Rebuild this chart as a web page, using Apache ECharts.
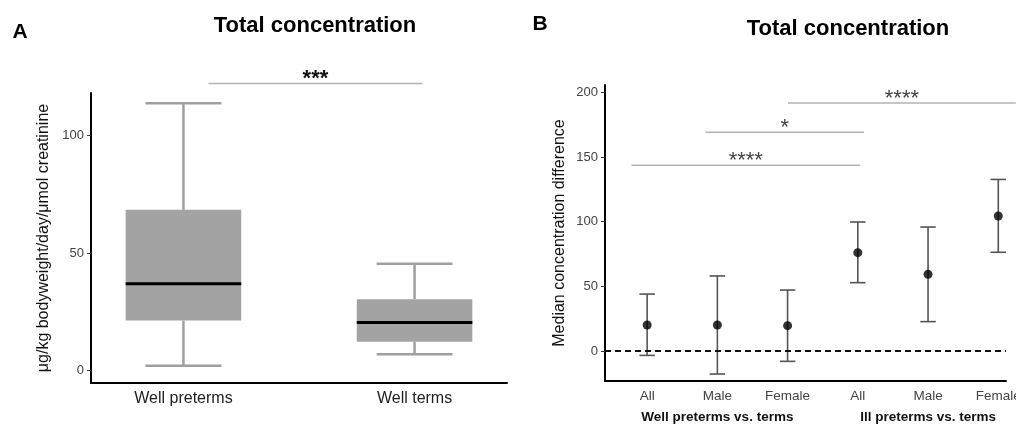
<!DOCTYPE html>
<html><head><meta charset="utf-8">
<script src="https://cdn.jsdelivr.net/npm/echarts@6/dist/echarts.min.js"></script>
<style>html,body{margin:0;padding:0;background:#fff}#c{width:1016px;height:425px}</style>
</head><body><div id="c"></div>
<script>
// ---- Panel A data ----
const groupsA = ['Well preterms', 'Well terms'];
const boxLow = [2.0, 6.9];
const boxQ1 = [21.2, 12.2];
const boxMedian = [36.9, 20.4];
const boxQ3 = [68.4, 30.3];
const boxHigh = [113.8, 45.4];
const ticksA = [0, 50, 100];
const bracketAStart = [1.108];
const bracketAEnd = [2.034];
const bracketAHeight = [122.3];
const bracketALabel = ['***'];

// ---- Panel B data ----
const subgroupsB = ['All', 'Male', 'Female', 'All', 'Male', 'Female'];
const groupLabelsB = ['Well preterms vs. terms', 'Ill preterms vs. terms'];
const medianDiff = [20.1, 20.1, 19.6, 76.0, 59.3, 104.3];
const ciLower = [-3.4, -17.8, -8.0, 52.8, 22.7, 76.3];
const ciUpper = [44.0, 58.0, 47.1, 99.7, 95.8, 132.6];
const ticksB = [0, 50, 100, 150, 200];
const bracketBStart = [0.777, 1.83, 3.006];
const bracketBEnd = [4.033, 4.09, 6.25];
const bracketBHeight = [143.5, 169, 191.7];
const bracketBLabel = ['****', '*', '****'];

const FONT = '"Liberation Sans", Arial, sans-serif';
const chart = echarts.init(document.getElementById('c'), null, {renderer: 'canvas'});

function bracketRender(starts, ends, labels, color, weight) {
  return function (params, api) {
    const i = params.dataIndex;
    const p1 = api.coord([starts[i], api.value(2)]);
    const p2 = api.coord([ends[i], api.value(2)]);
    return {
      type: 'group',
      children: [
        {type: 'line', shape: {x1: p1[0], y1: p1[1], x2: p2[0], y2: p2[1]},
         style: {stroke: '#b3b3b3', lineWidth: 1.5}},
        {type: 'text', x: (p1[0] + p2[0]) / 2, y: p1[1] - 4,
         style: {text: labels[i], font: weight + ' 22px ' + FONT, fill: color,
                 align: 'center', verticalAlign: 'middle'}}
      ]
    };
  };
}

const option = {
  animation: false,
  backgroundColor: '#fff',
  textStyle: {fontFamily: FONT},
  graphic: [
    {type: 'text', x: 20, y: 32, style: {text: 'A', font: 'bold 21px ' + FONT, fill: '#000', align: 'center', verticalAlign: 'middle'}},
    {type: 'text', x: 540, y: 24, style: {text: 'B', font: 'bold 21px ' + FONT, fill: '#000', align: 'center', verticalAlign: 'middle'}},
    {type: 'text', x: 315, y: 26, style: {text: 'Total concentration', font: 'bold 22px ' + FONT, fill: '#000', align: 'center', verticalAlign: 'middle'}},
    {type: 'text', x: 848, y: 29, style: {text: 'Total concentration', font: 'bold 22px ' + FONT, fill: '#000', align: 'center', verticalAlign: 'middle'}}
  ],
  grid: [
    {left: 91, top: 93, width: 416, height: 290, outerBoundsMode: 'none', containLabel: false},
    {left: 605, top: 85, width: 401, height: 296, outerBoundsMode: 'none', containLabel: false}
  ],
  xAxis: [
    {gridIndex: 0, type: 'value', min: 0.6, max: 2.4, position: 'bottom',
     axisLine: {onZero: false, lineStyle: {color: '#000', width: 2}},
     axisTick: {show: false}, splitLine: {show: false},
     axisLabel: {customValues: [1, 2], formatter: v => groupsA[Math.round(v) - 1] || '',
                 color: '#222', fontSize: 16, margin: 8}},
    {gridIndex: 1, type: 'value', min: 0.4, max: 6.11, position: 'bottom',
     axisLine: {onZero: false, lineStyle: {color: '#000', width: 2}},
     axisTick: {show: false}, splitLine: {show: false},
     axisLabel: {customValues: [1, 2, 3, 4, 5, 6], formatter: v => subgroupsB[Math.round(v) - 1] || '',
                 color: '#444', fontSize: 13.5, margin: 8}},
    {gridIndex: 1, type: 'value', min: 0.4, max: 6.11, position: 'bottom', offset: 0,
     axisLine: {show: false, onZero: false}, axisTick: {show: false}, splitLine: {show: false},
     axisLabel: {customValues: [2, 5], formatter: v => groupLabelsB[v === 2 ? 0 : 1],
                 color: '#111', fontSize: 13.5, fontWeight: 'bold', margin: 29}}
  ],
  yAxis: [
    {gridIndex: 0, type: 'value', min: -5.4, max: 118.2,
     name: 'μg/kg bodyweight/day/μmol creatinine', nameLocation: 'middle', nameGap: 39,
     nameTextStyle: {fontSize: 16, color: '#111'},
     axisLine: {onZero: false, lineStyle: {color: '#000', width: 2}},
     axisTick: {customValues: ticksA, length: 4, lineStyle: {color: '#333'}},
     splitLine: {show: false},
     axisLabel: {customValues: ticksA, color: '#444', fontSize: 13, margin: 7}},
    {gridIndex: 1, type: 'value', min: -23.2, max: 205.6,
     name: 'Median concentration difference', nameLocation: 'middle', nameGap: 37,
     nameTextStyle: {fontSize: 16, color: '#111'},
     axisLine: {onZero: false, lineStyle: {color: '#000', width: 2}},
     axisTick: {customValues: ticksB, length: 4, lineStyle: {color: '#333'}},
     splitLine: {show: false},
     axisLabel: {customValues: ticksB, color: '#444', fontSize: 13, margin: 7}}
  ],
  series: [
    {
      type: 'custom', xAxisIndex: 0, yAxisIndex: 0,
      data: groupsA.map((g, i) => [i + 1, boxLow[i], boxQ1[i], boxMedian[i], boxQ3[i], boxHigh[i]]),
      encode: {x: 0, y: [1, 2, 3, 4, 5]},
      renderItem: function (params, api) {
        const x = api.value(0);
        const halfBox = 0.25, halfCap = 0.164;
        const pLow = api.coord([x, api.value(1)]);
        const pQ1 = api.coord([x, api.value(2)]);
        const pMed = api.coord([x, api.value(3)]);
        const pQ3 = api.coord([x, api.value(4)]);
        const pHigh = api.coord([x, api.value(5)]);
        const bl = api.coord([x - halfBox, 0])[0], br = api.coord([x + halfBox, 0])[0];
        const cl = api.coord([x - halfCap, 0])[0], cr = api.coord([x + halfCap, 0])[0];
        const wStyle = {stroke: '#9f9f9f', lineWidth: 2.5};
        return {type: 'group', children: [
          {type: 'line', shape: {x1: pLow[0], y1: pLow[1], x2: pQ1[0], y2: pQ1[1]}, style: wStyle},
          {type: 'line', shape: {x1: pQ3[0], y1: pQ3[1], x2: pHigh[0], y2: pHigh[1]}, style: wStyle},
          {type: 'line', shape: {x1: cl, y1: pLow[1], x2: cr, y2: pLow[1]}, style: wStyle},
          {type: 'line', shape: {x1: cl, y1: pHigh[1], x2: cr, y2: pHigh[1]}, style: wStyle},
          {type: 'rect', shape: {x: bl, y: pQ3[1], width: br - bl, height: pQ1[1] - pQ3[1]},
           style: {fill: '#a3a3a3', stroke: null}},
          {type: 'line', shape: {x1: bl, y1: pMed[1], x2: br, y2: pMed[1]},
           style: {stroke: '#000', lineWidth: 3}}
        ]};
      }
    },
    {
      type: 'custom', xAxisIndex: 0, yAxisIndex: 0, clip: false,
      data: bracketAHeight.map((h, i) => [bracketAStart[i], bracketAEnd[i], h]),
      encode: {x: [0, 1], y: 2},
      renderItem: bracketRender(bracketAStart, bracketAEnd, bracketALabel, '#111', 'bold')
    },
    {
      type: 'custom', xAxisIndex: 1, yAxisIndex: 1, clip: false,
      data: medianDiff.map((m, i) => [i + 1, ciLower[i], ciUpper[i]]),
      encode: {x: 0, y: [1, 2]},
      renderItem: function (params, api) {
        const x = api.value(0);
        const pL = api.coord([x, api.value(1)]);
        const pU = api.coord([x, api.value(2)]);
        const cl = api.coord([x - 0.11, 0])[0], cr = api.coord([x + 0.11, 0])[0];
        const st = {stroke: '#555', lineWidth: 1.6};
        return {type: 'group', children: [
          {type: 'line', shape: {x1: pL[0], y1: pL[1], x2: pU[0], y2: pU[1]}, style: st},
          {type: 'line', shape: {x1: cl, y1: pL[1], x2: cr, y2: pL[1]}, style: st},
          {type: 'line', shape: {x1: cl, y1: pU[1], x2: cr, y2: pU[1]}, style: st}
        ]};
      }
    },
    {
      type: 'scatter', xAxisIndex: 1, yAxisIndex: 1, z: 5,
      data: medianDiff.map((m, i) => [i + 1, m]),
      symbolSize: 9, itemStyle: {color: '#000'},
      markLine: {
        silent: true, symbol: 'none', label: {show: false},
        lineStyle: {color: '#111', width: 2, type: [6, 4]},
        data: [{yAxis: 0}]
      }
    },
    {
      type: 'custom', xAxisIndex: 1, yAxisIndex: 1, clip: false,
      data: bracketBHeight.map((h, i) => [bracketBStart[i], bracketBEnd[i], h]),
      encode: {x: [0, 1], y: 2},
      renderItem: bracketRender(bracketBStart, bracketBEnd, bracketBLabel, '#444', 'normal')
    }
  ]
};
chart.setOption(option);
</script>
</body></html>
